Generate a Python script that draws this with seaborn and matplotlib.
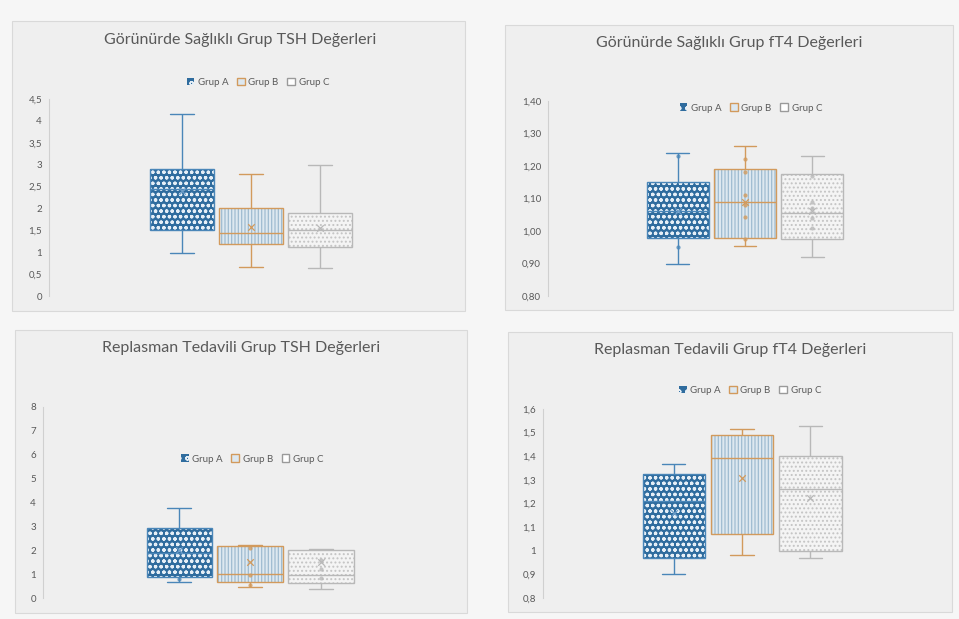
import numpy as np
import pandas as pd
import matplotlib
matplotlib.use("Agg")
import matplotlib.pyplot as plt
import seaborn as sns
from matplotlib.patches import Patch, PathPatch, Rectangle

# ---------------- data ----------------
groups = ["Grup A", "Grup B", "Grup C"]

titles = ["Görünürde Sağlıklı Grup TSH Değerleri",
          "Görünürde Sağlıklı Grup fT4 Değerleri",
          "Replasman Tedavili Grup TSH Değerleri",
          "Replasman Tedavili Grup fT4 Değerleri"]

# five-number summaries: [min, Q1, median, Q3, max]
tsh_h_a = [0.99, 1.51, 2.45, 2.90, 4.15]
tsh_h_b = [0.66, 1.18, 1.45, 2.01, 2.78]
tsh_h_c = [0.65, 1.13, 1.51, 1.89, 3.00]
tsh_h_mean = [2.40, 1.58, 1.56]

ft4_h_a = [0.898, 0.978, 1.060, 1.151, 1.241]
ft4_h_b = [0.954, 0.978, 1.088, 1.190, 1.262]
ft4_h_c = [0.921, 0.974, 1.056, 1.174, 1.232]
ft4_h_mean = [1.06, 1.09, 1.06]

tsh_r_a = [0.66, 0.87, 1.90, 2.92, 3.76]
tsh_r_b = [0.45, 0.66, 1.02, 2.16, 2.20]
tsh_r_c = [0.38, 0.63, 0.98, 2.02, 2.05]
tsh_r_mean = [2.00, 1.49, 1.50]

ft4_r_a = [0.903, 0.970, 1.210, 1.325, 1.366]
ft4_r_b = [0.984, 1.073, 1.392, 1.488, 1.516]
ft4_r_c = [0.970, 0.998, 1.263, 1.402, 1.526]
ft4_r_mean = [1.16, 1.307, 1.225]

# inner points visible in some boxes
ft4_h_pts_a = [1.23, 0.952]
ft4_h_pts_b = [1.22, 1.18, 1.11, 1.08, 1.044, 0.974]
ft4_h_pts_c = [1.17, 1.09, 1.07, 1.04, 1.01]
tsh_r_pts_a = [0.80]
tsh_r_pts_b = [2.10, 0.98, 0.55]
tsh_r_pts_c = [1.60, 1.20, 0.84]

tsh_h_ticks = [0, 0.5, 1, 1.5, 2, 2.5, 3, 3.5, 4, 4.5]
tsh_h_labels = ["0", "0,5", "1", "1,5", "2", "2,5", "3", "3,5", "4", "4,5"]
ft4_h_ticks = [0.8, 0.9, 1.0, 1.1, 1.2, 1.3, 1.4]
ft4_h_labels = ["0,80", "0,90", "1,00", "1,10", "1,20", "1,30", "1,40"]
tsh_r_ticks = [0, 1, 2, 3, 4, 5, 6, 7, 8]
tsh_r_labels = ["0", "1", "2", "3", "4", "5", "6", "7", "8"]
ft4_r_ticks = [0.8, 0.9, 1.0, 1.1, 1.2, 1.3, 1.4, 1.5, 1.6]
ft4_r_labels = ["0,8", "0,9", "1", "1,1", "1,2", "1,3", "1,4", "1,5", "1,6"]

# ---------------- style ----------------
W, H = 959, 619
face_cols = ["#2f6c9e", "#dde8f0", "#f4f4f4"]
hatch_cols = ["#e6eff7", "#9fbcd1", "#c4c4c4"]
hatches = ["ooo", "|||||", "...."]
edge_cols = ["#4a86b8", "#d29a5c", "#b8b8b8"]
text_col = "#595959"

sns.set_theme(style="white")
plt.rcParams["font.family"] = ["Lato", "DejaVu Sans"]
plt.rcParams["hatch.linewidth"] = 0.9

fig = plt.figure(figsize=(W / 100, H / 100), dpi=100)
fig.patch.set_facecolor("#f6f6f6")


def fx(px):
    return px / W


def fy(py):
    return 1 - py / H


# panel frames (px: left, top, right, bottom)
panels = [(12, 21, 465, 311), (505, 25, 953, 310),
          (15, 330, 467, 613), (508, 332, 952, 612)]
for (l, t, r, b) in panels:
    fig.patches.append(Rectangle((fx(l), fy(b)), fx(r - l), (b - t) / H,
                                 transform=fig.transFigure, facecolor="#efefef",
                                 edgecolor="#d9d9d9", linewidth=0.8, zorder=-5))

# axes (px: left, top(max), right, bottom(min))
axes_px = [(49, 99, 453, 296), (548, 101, 942, 296),
           (43, 407, 457, 598), (543, 409, 941, 598)]
title_pos = [(240, 40), (729, 43), (241, 348), (730, 350)]
legend_pos = [(0.517, 1.086), (0.515, 0.964), (0.505, 0.728), (0.52, 1.10)]

panel_data = [
    ([tsh_h_a, tsh_h_b, tsh_h_c], tsh_h_mean, None, tsh_h_ticks, tsh_h_labels, (0, 4.5)),
    ([ft4_h_a, ft4_h_b, ft4_h_c], ft4_h_mean, [ft4_h_pts_a, ft4_h_pts_b, ft4_h_pts_c],
     ft4_h_ticks, ft4_h_labels, (0.8, 1.4)),
    ([tsh_r_a, tsh_r_b, tsh_r_c], tsh_r_mean, [tsh_r_pts_a, tsh_r_pts_b, tsh_r_pts_c],
     tsh_r_ticks, tsh_r_labels, (0, 8)),
    ([ft4_r_a, ft4_r_b, ft4_r_c], ft4_r_mean, None, ft4_r_ticks, ft4_r_labels, (0.8, 1.6)),
]

box_w = 0.92
for i, (vals, means, pts, ticks, labels, ylim) in enumerate(panel_data):
    l, t, r, b = axes_px[i]
    ax = fig.add_axes([fx(l), fy(b), fx(r - l), (b - t) / H])
    ax.set_facecolor("none")
    ax.patch.set_visible(False)
    df = pd.DataFrame({"grup": np.repeat(groups, [len(v) for v in vals]),
                       "deger": np.concatenate(vals)})
    sns.boxplot(data=df, x="grup", y="deger", hue="grup", order=groups,
                hue_order=groups, palette=face_cols, saturation=1, width=box_w,
                whis=(0, 100), showfliers=False, legend=False, linewidth=1.0, ax=ax)

    # restyle boxes
    for p in list(ax.patches):
        v = p.get_path().vertices
        gi = int(round((v[:, 0].min() + v[:, 0].max()) / 2))
        p.set_facecolor(face_cols[gi])
        p.set_edgecolor(hatch_cols[gi])
        p.set_hatch(hatches[gi])
        p.set_linewidth(0)
        ax.add_patch(PathPatch(p.get_path(), transform=p.get_transform(),
                               facecolor="none", edgecolor=edge_cols[gi],
                               linewidth=1.0, zorder=p.get_zorder() + 0.2))
    for ln in ax.lines:
        xd = np.asarray(ln.get_xdata(), dtype=float)
        yd = np.asarray(ln.get_ydata(), dtype=float)
        gi = int(round(xd.mean()))
        ln.set_color(edge_cols[gi])
        ln.set_linewidth(1.0)
        ln.set_zorder(3)
        if len(xd) == 2 and yd[0] == yd[1] and (xd.max() - xd.min()) < 0.8 * box_w:
            ln.set_xdata([gi - 0.17, gi + 0.17])

    xs = np.arange(len(groups))
    if pts is not None:
        for gi, pv in enumerate(pts):
            ax.scatter(np.full(len(pv), xs[gi]), pv, s=9, color=edge_cols[gi],
                       alpha=0.8, zorder=4, linewidths=0)
    for gi in range(len(groups)):
        ax.scatter([xs[gi]], [means[gi]], marker="x", s=22,
                   color=edge_cols[gi] if gi else "#6b9cc8",
                   linewidths=0.9, zorder=5)

    ax.set_xlim(-1.92, 3.92)
    ax.set_ylim(*ylim)
    ax.set_yticks(ticks)
    ax.set_yticklabels(labels)
    ax.set_xticks([])
    ax.set_xlabel("")
    ax.set_ylabel("")
    ax.tick_params(axis="y", length=0, pad=5, labelsize=7, labelcolor=text_col)
    for s in ["top", "right", "bottom"]:
        ax.spines[s].set_visible(False)
    ax.spines["left"].set_color("#d0d0d0")
    ax.spines["left"].set_linewidth(0.8)

    handles = [Patch(facecolor=face_cols[0], edgecolor="#e6eff7", hatch="oo",
                     linewidth=0, label=groups[0]),
               Patch(facecolor=face_cols[1], edgecolor=edge_cols[1], label=groups[1]),
               Patch(facecolor="#ffffff", edgecolor="#9a9a9a", label=groups[2])]
    ax.legend(handles=handles, loc="center", bbox_to_anchor=legend_pos[i], ncol=3,
              frameon=False, fontsize=7, handlelength=0.8, handleheight=0.8,
              handletextpad=0.35, columnspacing=0.9, labelcolor=text_col,
              borderaxespad=0)

    tx, ty = title_pos[i]
    fig.text(fx(tx), fy(ty), titles[i], ha="center", va="center",
             fontsize=11.5, color=text_col)

fig.savefig("out.png", dpi=100, facecolor=fig.get_facecolor())
